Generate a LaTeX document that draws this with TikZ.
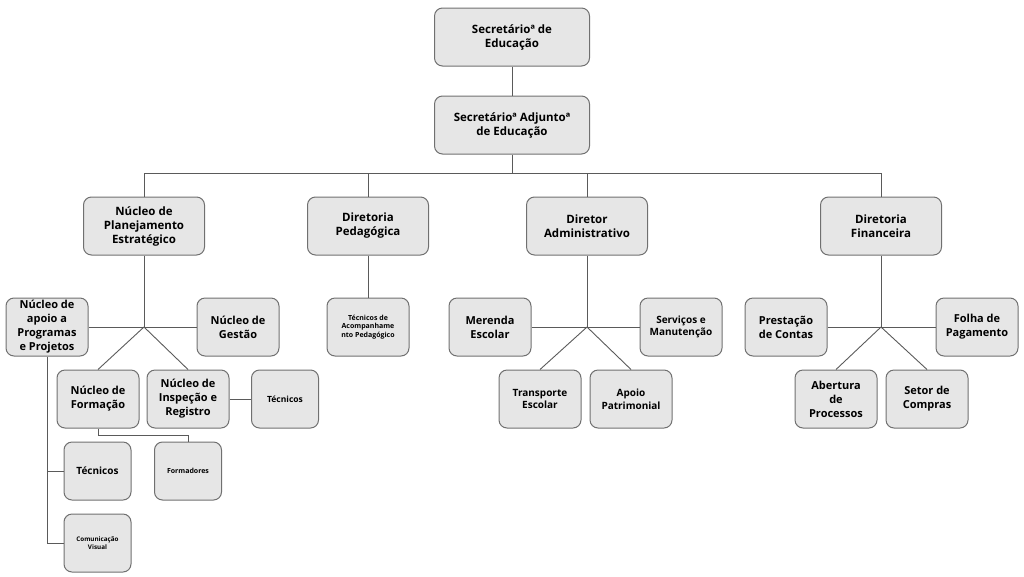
\documentclass[tikz,border=0pt]{standalone}
\usepackage{fontspec}
\setmainfont{Open Sans}
\usepackage{tikz}
\usetikzlibrary{positioning, calc}
\definecolor{boxfill}{HTML}{E6E6E6}
\definecolor{boxline}{HTML}{707070}
\definecolor{linkline}{HTML}{5A5A5A}

\begin{document}
\begin{tikzpicture}[x=1pt, y=-1pt,
		box/.style={draw=boxline, fill=boxfill, line width=1pt, rounded corners=8pt,
			align=center, inner sep=1pt, minimum width=82pt, minimum height=58pt,
			font=\bfseries\fontsize{11}{14}\selectfont},
		head/.style={box, minimum width=121pt, font=\bfseries\fontsize{11.5}{14}\selectfont},
		chief/.style={box, minimum width=155pt, font=\bfseries\fontsize{11.5}{14}\selectfont},
		mid/.style={box, font=\bfseries\fontsize{10}{12.5}\selectfont},
		small/.style={box, minimum width=67pt, font=\bfseries\fontsize{8.5}{10}\selectfont},
		tiny/.style={box, font=\bfseries\fontsize{7}{8.5}\selectfont},
		link/.style={draw=linkline, line width=0.9pt}]
	\useasboundingbox (0,0) rectangle (1024,576);
	
	% Top of the chart
	\node[chief] (sec) at (512,37) {Secretárioª de\\Educação};
	\node[chief] (adj) at (512,125) {Secretárioª Adjuntoª\\de Educação};
	
	% Second level
	\node[head] (plan) at (144,226) {Núcleo de\\Planejamento\\Estratégico};
	\node[head] (ped) at (368,226) {Diretoria\\Pedagógica};
	\node[head] (adm) at (587,226) {Diretor\\Administrativo};
	\node[head] (fin) at (881,226) {Diretoria\\Financeira};
	
	% Planejamento branch
	\node[box] (apoio) at (47,327) {Núcleo de\\apoio a\\Programas\\e Projetos};
	\node[box] (gestao) at (238,327) {Núcleo de\\Gestão};
	\node[box] (form) at (98,399) {Núcleo de\\Formação};
	\node[box] (insp) at (188,399) {Núcleo de\\Inspeção e\\Registro};
	\node[small] (tecinsp) at (285,399) {Técnicos};
	\node[small, font=\bfseries\fontsize{7}{8.5}\selectfont] (formad) at (188,471) {Formadores};
	\node[small, font=\bfseries\fontsize{10}{12}\selectfont] (tecapoio) at (97.5,471) {Técnicos};
	\node[small, font=\bfseries\fontsize{6.3}{7.5}\selectfont] (comvis) at (97.5,543) {Comunicação\\Visual};
	
	% Pedagogica branch
	\node[tiny] (tecped) at (368,327) {Técnicos de\\Acompanhame\\nto Pedagógico};
	
	% Administrativo branch
	\node[box] (merenda) at (490,327) {Merenda\\Escolar};
	\node[mid] (serv) at (681,327) {Serviços e\\Manutenção};
	\node[mid] (transp) at (540,399) {Transporte\\Escolar};
	\node[mid] (patr) at (631,399) {Apoio\\Patrimonial};
	
	% Financeira branch
	\node[box] (prest) at (786,327) {Prestação\\de Contas};
	\node[box] (folha) at (977,327) {Folha de\\Pagamento};
	\node[box] (abert) at (836,399) {Abertura\\de\\Processos};
	\node[box] (compras) at (927,399) {Setor de\\Compras};
	
	% Junctions
	\coordinate (bus) at (512,173);
	\coordinate (jplan) at (144,327);
	\coordinate (jadm) at (587,327);
	\coordinate (jfin) at (881,327);
	
	% Connectors, top
	\draw[link] (sec.south) -- (adj.north);
	\draw[link] (adj.south) -- (bus);
	\draw[link] (plan.north |- bus) -- (fin.north |- bus);
	\foreach \n in {plan,ped,adm,fin}
		\draw[link] (\n.north) -- (\n.north |- bus);
	
	% Connectors, Planejamento
	\draw[link] (plan.south) -- (jplan);
	\draw[link] (apoio.east) -- (gestao.west);
	\draw[link] (jplan) -- (form.north);
	\draw[link] (jplan) -- (insp.north);
	\draw[link] (insp.east) -- (tecinsp.west);
	\draw[link] (form.south) -- ++(0,7) -| (formad.north);
	\draw[link] (apoio.south) |- (comvis.west);
	\draw[link] (apoio.south |- tecapoio.west) -- (tecapoio.west);
	
	% Connectors, Pedagogica
	\draw[link] (ped.south) -- (tecped.north);
	
	% Connectors, Administrativo
	\draw[link] (adm.south) -- (jadm);
	\draw[link] (merenda.east) -- (serv.west);
	\draw[link] (jadm) -- (transp.north);
	\draw[link] (jadm) -- (patr.north);
	
	% Connectors, Financeira
	\draw[link] (fin.south) -- (jfin);
	\draw[link] (prest.east) -- (folha.west);
	\draw[link] (jfin) -- (abert.north);
	\draw[link] (jfin) -- (compras.north);
\end{tikzpicture}
\end{document}
